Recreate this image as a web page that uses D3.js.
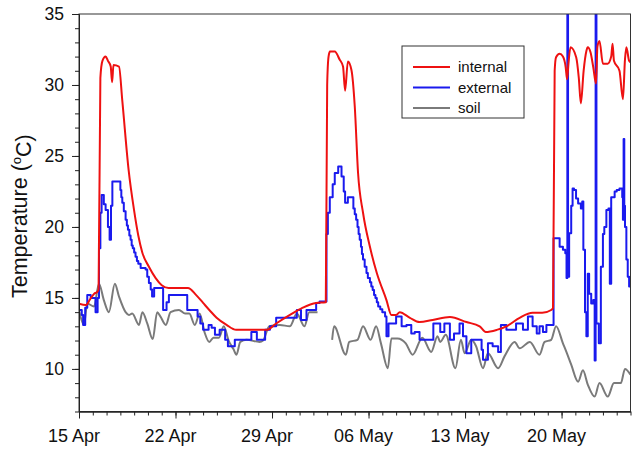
<!DOCTYPE html>
<html>
<head>
<meta charset="utf-8">
<script src="https://cdn.jsdelivr.net/npm/d3@7"></script>
<style>
  html, body { margin: 0; padding: 0; background: #fff; }
  svg { display: block; font-family: "Liberation Sans", Arial, sans-serif; }
</style>
</head>
<body>
<svg id="chart" width="638" height="453"></svg>
<script>
// ---- Data (day offset from 15 Apr, temperature in °C) ----
const startDate = Date.UTC(2013, 3, 15);
const tickDays = [0, 7, 14, 21, 28, 35];
const yTicks = [10, 15, 20, 25, 30, 35];
const seriesNames = ["internal", "external", "soil"];
const seriesColors = ["#ee1111", "#1a1aee", "#7a7a7a"];

const internalDays = [0,0.5,0.8,1.1,1.3,1.42,1.55,1.7,1.93,2.1,2.3,2.4,2.5,2.9,3.14,3.6,3.99,4.3,4.59,5.07,5.56,6.0,6.5,7.9,8.5,9.0,9.5,9.98,10.7,11.4,13.6,14.3,15.3,16.2,17.2,17.9,18.0,18.1,18.2,18.55,18.9,19.15,19.3,19.5,19.76,20.0,20.24,20.6,21.1,21.6,22.3,22.66,23.0,23.26,24.0,24.7,25.65,26.9,28.1,29.06,29.5,30.3,31.0,31.96,32.9,33.6,34.25,34.38,34.5,34.6,34.86,35.1,35.3,35.4,35.5,35.65,36.06,36.25,36.4,36.6,36.8,36.9,37.1,37.3,37.5,37.6,37.75,38.0,38.35,38.6,38.7,38.8,39.2,39.45,39.6,39.7,39.9,40];
const internalTemp = [14.6,14.5,14.9,15.3,15.4,15.6,30.5,31.7,32.0,31.7,31.3,30.2,31.4,31.3,28.9,24.0,21.2,19.4,18.2,17.2,16.4,15.9,15.7,15.7,15.2,14.65,14.1,13.6,13.1,12.75,12.75,13.2,13.8,14.3,14.65,14.7,30.0,32.0,32.35,32.35,31.8,31.3,29.6,31.65,31.05,28.5,23.8,21.0,18.6,16.75,14.85,13.8,13.8,14.0,13.6,13.3,13.45,13.65,13.3,13.0,12.6,12.75,13.0,13.6,13.95,13.95,14.15,14.3,31.0,31.95,32.2,32.0,31.25,30.4,31.5,32.65,31.95,30.5,28.7,31.0,32.4,32.65,32.3,31.25,30.1,32.7,33.1,31.5,31.5,32.0,32.9,31.7,31.0,29.0,31.8,32.65,31.7,31.6];

const externalDays = [0,0.2,0.3,0.45,0.6,0.85,1.09,1.2,1.35,1.45,1.55,1.64,1.8,1.93,2.1,2.22,2.32,2.42,2.9,3.0,3.07,3.14,3.25,3.38,3.47,3.55,3.65,3.74,3.82,3.9,4.0,4.1,4.2,4.3,4.47,4.83,4.95,5.07,5.2,5.3,5.45,5.92,6.1,6.35,6.52,7.8,7.85,8.5,8.6,8.8,9.0,9.4,9.62,9.86,10.2,10.6,10.8,11.3,12.5,12.9,13.5,13.85,14.3,15.8,16.1,16.5,17.2,17.45,17.95,18.05,18.19,18.4,18.55,18.8,19.04,19.2,19.3,19.5,19.8,19.9,20.0,20.1,20.2,20.28,20.36,20.45,20.52,20.6,20.72,20.85,20.95,21.1,21.2,21.3,21.4,21.5,21.6,21.7,21.85,22.0,22.2,22.3,22.45,23.0,23.4,23.75,24.1,24.35,24.7,25.4,25.7,26.2,26.5,26.9,27.2,27.6,27.85,28.1,28.45,29.2,29.3,29.66,30.0,30.4,30.6,31.0,31.7,32.2,32.56,32.9,33.2,33.4,33.65,33.9,34.35,34.42,34.6,34.86,35.1,35.27,35.36,35.42,35.47,35.55,35.7,35.8,35.9,36.05,36.2,36.4,36.5,36.58,36.7,36.8,36.9,37.0,37.15,37.3,37.4,37.47,37.53,37.7,37.85,38.0,38.1,38.25,38.4,38.5,38.6,38.85,39.0,39.2,39.4,39.45,39.5,39.55,39.6,39.7,39.8,39.9,40];
const externalTemp = [14.15,13.8,13.1,14.3,15.2,15.0,15.0,14.0,15.0,18.5,21.0,22.25,21.6,21.2,20.0,19.1,21.5,23.2,23.2,22.6,22.1,21.7,21.1,20.5,20.1,19.8,19.4,19.1,18.7,18.5,18.2,17.9,17.6,17.4,17.1,17.0,16.5,16.05,15.6,15.1,15.7,15.7,14.15,14.7,15.2,15.2,14.15,14.15,13.7,13.2,12.75,13.1,12.9,12.4,12.75,12.05,11.6,12.05,12.6,12.05,12.75,13.0,13.6,14.15,13.45,14.15,14.65,14.75,19.5,21.0,22.1,23.0,23.8,24.25,23.55,22.5,21.7,22.1,22.1,21.3,20.9,20.5,20.0,19.5,19.1,18.6,18.1,17.7,17.2,16.75,16.4,16.1,15.8,15.55,15.2,15.0,14.7,14.4,14.2,14.0,13.7,12.3,13.2,13.7,13.0,13.1,12.5,12.6,12.05,12.05,13.2,12.6,13.2,12.05,12.5,13.2,12.3,11.1,12.05,11.35,10.65,11.8,11.6,11.2,13.1,12.75,13.2,12.75,13.7,13.0,12.5,13.0,12.6,13.1,13.1,19.2,19.2,18.6,18.4,18.15,16.4,36,16.5,19.55,21.5,22.7,22.6,22.0,21.65,21.3,21.8,18.4,14.0,12.3,16.7,15.3,14.6,14.85,10.6,36,13.2,11.8,17.2,19.5,20.0,21.2,21.3,16.0,22.1,22.5,22.6,22.7,22.1,20.5,26.2,21.5,20.0,17.7,16.5,15.8,16.2];

// null marks the gap in the soil record
const soilDays = [0,0.36,0.6,1.09,1.45,1.8,2.17,2.6,2.9,3.38,3.62,3.86,4.35,4.6,4.95,5.35,5.67,5.9,6.3,6.64,7.25,7.7,8.0,8.4,8.75,9.1,9.45,9.75,10.15,10.5,10.85,11.2,11.42,11.7,12.15,13.1,13.35,13.8,14.57,15.3,15.8,16.35,16.7,17.3,17.8,18.36,18.5,19.35,19.6,20.2,20.6,21.15,21.55,21.9,22.4,22.66,23.1,23.7,24.2,24.9,25.55,26.0,26.2,26.6,27.3,27.7,27.97,28.45,28.8,29.3,29.66,30.4,30.87,31.6,31.96,32.7,33.4,33.77,34.25,34.6,35.1,35.35,35.7,36.2,36.55,36.9,37.4,37.75,38.35,38.8,39.3,39.6,40];
const soilTemp = [14.15,13.1,14.6,14.4,16.0,14.85,14.0,16.0,15.1,14.0,13.8,13.9,13.1,14.0,13.2,12.1,14.0,13.7,13.1,14.0,14.15,13.9,13.9,13.1,13.9,12.6,11.9,12.2,12.2,13.0,12.0,11.4,11.0,11.9,12.05,11.9,12.0,13.0,13.1,13.0,13.9,13.0,14.0,14.0,null,12.05,13.0,11.0,11.9,12.05,13.0,12.05,13.0,11.8,10.05,12.15,12.15,11.8,11.0,12.2,11.2,12.3,11.9,12.4,10.05,12.05,11.1,12.05,11.6,10.05,11.1,10.05,10.9,11.9,11.45,11.9,11.0,11.9,12.05,13.0,11.8,11.2,10.3,9.1,9.9,8.9,8.05,9.0,8.05,9.0,9.0,10.0,9.6];

// ---- Layout ----
const svg = d3.select("#chart");
const X0 = 79, X1 = 630.5, Y0 = 14, Y1 = 411.5;
const toDate = d => new Date(startDate + d * 86400000);

const x = d3.scaleUtc().domain([toDate(0), toDate(40)]).range([X0, X1]);
const y = d3.scaleLinear().domain([7, 35]).range([Y1, Y0]);

svg.append("defs").append("clipPath").attr("id", "plotclip")
  .append("rect").attr("x", X0).attr("y", Y0).attr("width", X1 - X0).attr("height", Y1 - Y0);

function makeSeries(days, temps) {
  return days.map((d, i) => ({ t: toDate(d), v: temps[i] }));
}

const series = [
  { data: makeSeries(internalDays, internalTemp), curve: d3.curveMonotoneX },
  { data: makeSeries(externalDays, externalTemp), curve: d3.curveStepAfter },
  { data: makeSeries(soilDays, soilTemp), curve: d3.curveMonotoneX }
];

const plot = svg.append("g").attr("clip-path", "url(#plotclip)");
[2, 1, 0].forEach(i => {
  const s = series[i];
  const line = d3.line()
    .defined(d => d.v !== null)
    .x(d => x(d.t)).y(d => y(d.v))
    .curve(s.curve);
  plot.append("path").datum(s.data)
    .attr("fill", "none")
    .attr("stroke", seriesColors[i])
    .attr("stroke-width", 2)
    .attr("stroke-linejoin", "round")
    .attr("d", line);
});

// frame
svg.append("rect").attr("x", X0).attr("y", Y0).attr("width", X1 - X0).attr("height", Y1 - Y0)
  .attr("fill", "none").attr("stroke", "#333").attr("stroke-width", 1);

// axes
const fmt = d3.utcFormat("%d %b");
const xMajor = d3.axisBottom(x).tickValues(tickDays.map(toDate)).tickFormat(fmt)
  .tickSize(7).tickSizeOuter(0).tickPadding(11);
const xMinor = d3.axisBottom(x).tickValues(d3.range(0, 41).map(toDate)).tickFormat("")
  .tickSize(4).tickSizeOuter(0);
const yMajor = d3.axisLeft(y).tickValues(yTicks).tickFormat(d3.format("d"))
  .tickSize(7).tickSizeOuter(0).tickPadding(8);
const yMinor = d3.axisLeft(y).tickValues(d3.range(7, 36)).tickFormat("")
  .tickSize(4).tickSizeOuter(0);

function styleAxis(g, size) {
  g.select(".domain").attr("stroke", "#222");
  g.selectAll(".tick line").attr("stroke", "#222");
  g.selectAll("text").attr("fill", "#111").style("font-size", size + "px")
    .style("font-family", '"Liberation Sans", Arial, sans-serif');
}
svg.append("g").attr("transform", `translate(0,${Y1})`).call(xMinor).call(styleAxis, 18);
svg.append("g").attr("transform", `translate(0,${Y1})`).call(xMajor).call(styleAxis, 18)
  .selectAll("text").attr("dx", -5.5);
svg.append("g").attr("transform", `translate(${X0},0)`).call(yMinor).call(styleAxis, 17.5);
svg.append("g").attr("transform", `translate(${X0},0)`).call(yMajor).call(styleAxis, 17.5);

// y title (starts at bottom, reads upward)
const title = svg.append("text")
  .attr("transform", `translate(27,298) rotate(-90)`)
  .attr("text-anchor", "start")
  .attr("fill", "#111")
  .style("font-size", "21.5px");
title.append("tspan").text("Temperature (");
title.append("tspan").attr("dy", "-0.45em").style("font-size", "13px").text("o");
title.append("tspan").attr("dy", "0.45em").text("C)");

// legend
const lg = svg.append("g");
lg.append("rect").attr("x", 402).attr("y", 46).attr("width", 122).attr("height", 72)
  .attr("fill", "#fff").attr("stroke", "#333").attr("stroke-width", 1);
seriesNames.forEach((name, i) => {
  const cy = 67 + i * 20.5;
  lg.append("line").attr("x1", 413).attr("x2", 450).attr("y1", cy).attr("y2", cy)
    .attr("stroke", seriesColors[i]).attr("stroke-width", 2);
  lg.append("text").attr("x", 458).attr("y", cy).attr("dy", "0.35em")
    .attr("fill", "#111").style("font-size", "15px").text(name);
});
</script>
</body>
</html>
